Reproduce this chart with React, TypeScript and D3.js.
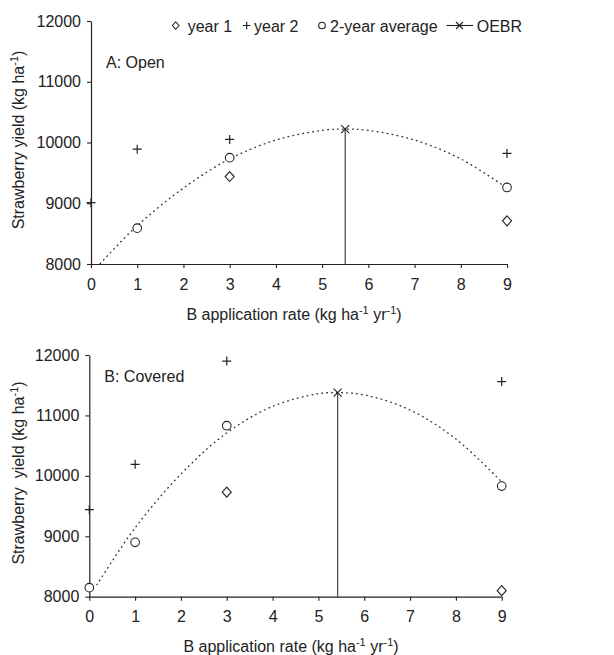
import { useRef, useEffect } from 'react';
import * as d3 from 'd3';

// B application rates (kg ha-1 yr-1)
const rates = [0, 1, 3, 9];

// A: Open
const openYear1 = [null, null, 9440, 8710];
const openYear2 = [9010, 9890, 10050, 9820];
const openAvg = [null, 8590, 9750, 9260];
const openOebr = [5.5, 10220];
const openFitX = [0.19, 1, 2, 3, 4, 5, 5.5, 6, 7, 8, 9];
const openFitY = [8000, 8630, 9250, 9730, 10040, 10200, 10220, 10200, 10040, 9730, 9250];

// B: Covered
const coveredYear1 = [null, null, 9730, 8100];
const coveredYear2 = [9440, 10190, 11900, 11560];
const coveredAvg = [8150, 8900, 10830, 9830];
const coveredOebr = [5.42, 11377];
const coveredFitX = [0.16, 1, 2, 3, 4, 5, 5.42, 6, 7, 8, 9];
const coveredFitY = [8190, 9140, 10030, 10710, 11150, 11360, 11377, 11340, 11090, 10610, 9900];

const xTicks = [0, 1, 2, 3, 4, 5, 6, 7, 8, 9];
const yTicks = [8000, 9000, 10000, 11000, 12000];

const legendLabels = ['year 1', 'year 2', '2-year average', 'OEBR'];

const FONT = '"Liberation Sans", Arial, sans-serif';
const INK = '#222';

type Sel = d3.Selection<SVGGElement, unknown, null, undefined>;

function diamond(g: Sel, x: number, y: number, w: number, h: number) {
  g.append('path')
    .attr('d', `M${x},${y - h / 2}L${x + w / 2},${y}L${x},${y + h / 2}L${x - w / 2},${y}Z`)
    .attr('fill', 'none').attr('stroke', INK).attr('stroke-width', 1.1);
}
function plus(g: Sel, x: number, y: number, s: number) {
  g.append('path')
    .attr('d', `M${x - s / 2},${y}H${x + s / 2}M${x},${y - s / 2}V${y + s / 2}`)
    .attr('stroke', INK).attr('stroke-width', 1.2);
}
function circle(g: Sel, x: number, y: number, r: number) {
  g.append('circle').attr('cx', x).attr('cy', y).attr('r', r)
    .attr('fill', 'white').attr('stroke', INK).attr('stroke-width', 1.1);
}
function cross(g: Sel, x: number, y: number, s: number) {
  g.append('path')
    .attr('d', `M${x - s / 2},${y - s / 2}L${x + s / 2},${y + s / 2}M${x - s / 2},${y + s / 2}L${x + s / 2},${y - s / 2}`)
    .attr('stroke', INK).attr('stroke-width', 1.1);
}

function supText(t: d3.Selection<SVGTextElement, unknown, null, undefined>, parts: [string, boolean][]) {
  parts.forEach(([s, sup], i) => {
    const prevSup = i > 0 && parts[i - 1][1];
    t.append('tspan')
      .attr('font-size', sup ? 11 : 16)
      .attr('dy', sup ? -6 : prevSup ? 6 : 0)
      .text(s);
  });
}

function drawPanel(svg: d3.Selection<SVGSVGElement, unknown, null, undefined>, p: any) {
  const x = d3.scaleLinear().domain([0, 9]).range([p.left, p.right]);
  const y = d3.scaleLinear().domain([8000, 12000]).range([p.bottom, p.top]);
  const g = svg.append('g') as unknown as Sel;

  // fitted curve
  const line = d3.line<number>()
    .x((_, i) => x(p.fitX[i]))
    .y(d => y(d))
    .curve(d3.curveCatmullRom);
  g.append('path')
    .attr('d', line(p.fitY))
    .attr('fill', 'none').attr('stroke', '#333')
    .attr('stroke-width', 1.3).attr('stroke-dasharray', '1.8 3.2');

  // OEBR vertical line
  g.append('line')
    .attr('x1', x(p.oebr[0])).attr('x2', x(p.oebr[0]))
    .attr('y1', y(p.oebr[1])).attr('y2', y(8000))
    .attr('stroke', '#444').attr('stroke-width', 1.2);

  // axes
  const ax = g.append('g')
    .attr('transform', `translate(0,${p.bottom})`)
    .call(d3.axisBottom(x).tickValues(xTicks).tickSize(4).tickPadding(p.xPad).tickSizeOuter(0));
  const ay = g.append('g')
    .attr('transform', `translate(${p.left},0)`)
    .call(d3.axisLeft(y).tickValues(yTicks).tickFormat(d3.format('d')).tickSize(4).tickPadding(6).tickSizeOuter(0));
  [ax, ay].forEach(a => {
    a.select('.domain').attr('stroke', INK).attr('stroke-width', 1.2);
    a.selectAll('.tick line').attr('stroke', INK).attr('stroke-width', 1.1);
    a.selectAll('.tick text').attr('font-family', FONT).attr('font-size', 16).attr('fill', INK);
  });

  // points
  rates.forEach((r, i) => {
    if (p.year1[i] != null) diamond(g, x(r), y(p.year1[i]), 9, 10);
    if (p.year2[i] != null) plus(g, x(r), y(p.year2[i]), 9);
    if (p.avg[i] != null) circle(g, x(r), y(p.avg[i]), 4.3);
  });
  cross(g, x(p.oebr[0]), y(p.oebr[1]), 8);

  // panel label
  g.append('text').attr('x', p.left + 15).attr('y', p.labelY)
    .attr('font-family', FONT).attr('font-size', 16).attr('fill', INK)
    .text(p.label);

  // axis titles
  const xt = g.append('text')
    .attr('x', p.xTitleX).attr('y', p.xTitleY)
    .attr('text-anchor', 'middle')
    .attr('font-family', FONT).attr('fill', INK);
  supText(xt, [['B application rate (kg ha', false], ['-1', true], [' yr', false], ['-1', true], [')', false]]);

  const yt = g.append('text')
    .attr('transform', `translate(24,${p.yTitleY}) rotate(-90)`)
    .attr('text-anchor', 'middle')
    .attr('font-family', FONT).attr('fill', INK)
    .style('white-space', 'pre');
  supText(yt, [[p.yTitle, false], ['-1', true], [')', false]]);
}

export default function App() {
  const svgRef = useRef<SVGSVGElement>(null);

  useEffect(() => {
    const svg = d3.select(svgRef.current as SVGSVGElement);
    svg.selectAll('*').remove();

    drawPanel(svg, {
      left: 91, right: 507, top: 21, bottom: 264, xPad: 11,
      year1: openYear1, year2: openYear2, avg: openAvg,
      oebr: openOebr, fitX: openFitX, fitY: openFitY,
      label: 'A: Open', labelY: 68,
      xTitleX: 294, xTitleY: 320,
      yTitle: 'Strawberry yield (kg ha', yTitleY: 140,
    });
    drawPanel(svg, {
      left: 89.3, right: 501.7, top: 355, bottom: 596.7, xPad: 9.5,
      year1: coveredYear1, year2: coveredYear2, avg: coveredAvg,
      oebr: coveredOebr, fitX: coveredFitX, fitY: coveredFitY,
      label: 'B: Covered', labelY: 382,
      xTitleX: 291, xTitleY: 651.5,
      yTitle: 'Strawberry  yield (kg ha', yTitleY: 473,
    });

    // legend
    const lg = svg.append('g') as unknown as Sel;
    const ly = 25.5;
    diamond(lg, 175.7, ly, 6.5, 7.5);
    plus(lg, 246.7, ly, 7.5);
    circle(lg, 322, ly, 3.3);
    lg.append('line').attr('x1', 446.5).attr('x2', 473).attr('y1', ly).attr('y2', ly)
      .attr('stroke', INK).attr('stroke-width', 1.1);
    cross(lg, 459.5, ly, 7);
    const textX = [187.7, 254, 330, 476.7];
    legendLabels.forEach((s, i) => {
      lg.append('text').attr('x', textX[i]).attr('y', 31.5)
        .attr('font-family', FONT).attr('font-size', 16).attr('fill', INK)
        .text(s);
    });
  }, []);

  return (
    <svg
      ref={svgRef}
      width={614}
      height={655}
      style={{ position: 'absolute', left: 0, top: 0, background: 'white' }}
    />
  );
}
